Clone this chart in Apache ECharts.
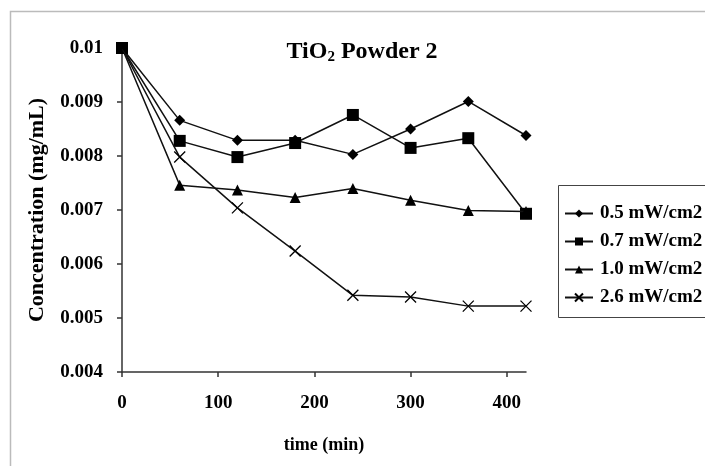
<!DOCTYPE html>
<html>
<head>
<meta charset="utf-8">
<script src="https://cdn.jsdelivr.net/npm/echarts@6/dist/echarts.min.js"></script>
<style>html,body{margin:0;padding:0;background:#fff}#c{width:705px;height:466px}</style>
</head>
<body>
<div id="c"></div>
<script>
var times = [0, 60, 120, 180, 240, 300, 360, 420];
var seriesNames = ['0.5 mW/cm2', '0.7 mW/cm2', '1.0 mW/cm2', '2.6 mW/cm2'];
var s05 = [0.01, 0.00866, 0.00829, 0.00829, 0.00803, 0.0085, 0.00901, 0.00838];
var s07 = [0.01, 0.00828, 0.00798, 0.00824, 0.00876, 0.00815, 0.00833, 0.00693];
var s10 = [0.01, 0.00746, 0.00737, 0.00723, 0.0074, 0.00718, 0.00699, 0.00697];
var s26 = [0.01, 0.00798, 0.00704, 0.00624, 0.00542, 0.00539, 0.00522, 0.00522];
var xTicks = [0, 100, 200, 300, 400];

var font = '"Liberation Serif", "Times New Roman", serif';
function pairs(v){ return times.map(function(t,i){ return [t, v[i]]; }); }
var crossPath = 'path://M0,0L10,10M10,0L0,10';
var allData = [s05, s07, s10, s26];
var symbols = ['diamond', 'rect', 'triangle', crossPath];
var sizes = [11, 12, 11, 11];

var chart = echarts.init(document.getElementById('c'));
chart.setOption({
  animation: false,
  backgroundColor: '#fff',
  textStyle: { fontFamily: font },
  title: {
    text: '{a|TiO}{s|2}{a| Powder 2}',
    left: 357, top: 33, textAlign: 'center',
    textStyle: {
      rich: {
        a: { fontFamily: font, fontWeight: 'bold', fontSize: 24, color: '#000' },
        s: { fontFamily: font, fontWeight: 'bold', fontSize: 15, color: '#000', padding: [12, 0, 0, 0] }
      }
    }
  },
  grid: { left: 122, right: 179, top: 48, bottom: 94 },
  legend: {
    data: seriesNames,
    orient: 'vertical',
    left: 564, top: 204,
    padding: 0,
    itemGap: 9,
    itemWidth: 28, itemHeight: 10,
    textStyle: { fontFamily: font, fontWeight: 'bold', fontSize: 19, color: '#000', padding: [0, 0, 0, 2] }
  },
  xAxis: {
    type: 'value', min: 0, max: 420, interval: 100,
    name: 'time (min)', nameLocation: 'middle', nameGap: 64,
    nameTextStyle: { fontFamily: font, fontWeight: 'bold', fontSize: 18, color: '#000' },
    axisLine: { lineStyle: { color: '#333', width: 1.5 } },
    axisTick: { show: true, length: 5, lineStyle: { color: '#333', width: 1.5 }, customValues: xTicks },
    axisLabel: { fontFamily: font, fontWeight: 'bold', fontSize: 19, color: '#000', margin: 22, customValues: xTicks },
    splitLine: { show: false }
  },
  yAxis: {
    type: 'value', min: 0.004, max: 0.01, interval: 0.001,
    name: 'Concentration (mg/mL)', nameLocation: 'middle', nameGap: 74,
    nameTextStyle: { fontFamily: font, fontWeight: 'bold', fontSize: 22, color: '#000' },
    axisLine: { show: true, lineStyle: { color: '#333', width: 1.5 } },
    axisTick: { show: true, length: 5, lineStyle: { color: '#333', width: 1.5 } },
    axisLabel: { fontFamily: font, fontWeight: 'bold', fontSize: 19, color: '#000', margin: 19,
      formatter: function(v){ return +v.toFixed(3) + ''; } },
    splitLine: { show: false }
  },
  graphic: [
    { type: 'rect', shape: { x: 10.5, y: 11.5, width: 720, height: 480 }, style: { fill: 'none', stroke: '#bbb', lineWidth: 1.5 }, z: -1 },
    { type: 'rect', shape: { x: 558.5, y: 185.5, width: 160, height: 132 }, style: { fill: 'none', stroke: '#444', lineWidth: 1 }, z: -1 }
  ],
  series: allData.map(function(v, i){
    return {
      name: seriesNames[i], type: 'line', data: pairs(v),
      symbol: symbols[i], symbolSize: sizes[i], showSymbol: true,
      lineStyle: { color: '#111', width: 1.5 },
      itemStyle: { color: i === 3 ? 'none' : '#000', borderColor: '#000', borderWidth: i === 3 ? 1.3 : 0 },
      z: 2 + i
    };
  })
});
</script>
</body>
</html>
